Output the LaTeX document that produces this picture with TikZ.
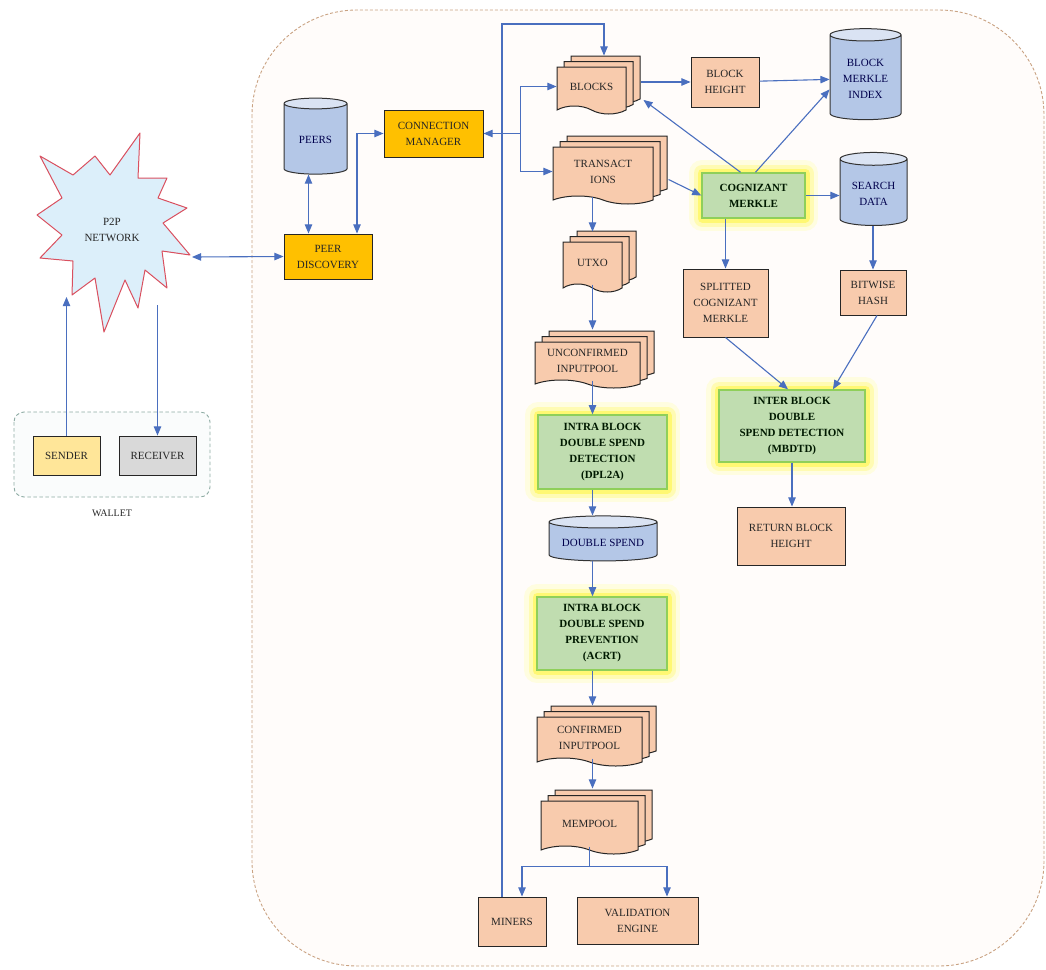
\documentclass[tikz,border=0pt]{standalone}
\usepackage{fontspec}
\setmainfont{Liberation Serif}
\usepackage{xcolor}
\usepackage{tikz}
\usetikzlibrary{arrows, arrows.meta,calc,fit,shapes,shapes.geometric,shapes.symbols,shadows,positioning}

\definecolor{peach}{HTML}{F8CBAD}
\definecolor{gold}{HTML}{FFC000}
\definecolor{dbblue}{HTML}{B4C7E7}
\definecolor{dbtop}{HTML}{DAE3F3}
\definecolor{mgreen}{HTML}{C0DDB0}
\definecolor{mgreenline}{HTML}{8FCF5A}
\definecolor{linkblue}{HTML}{4A6FBF}
\definecolor{netfill}{HTML}{DCEFFA}
\definecolor{netline}{HTML}{D9505F}
\definecolor{frameline}{HTML}{C9A282}
\definecolor{walletline}{HTML}{8DABA3}
\definecolor{sendfill}{HTML}{FFE699}
\definecolor{recvfill}{HTML}{D9D9D9}

\tikzset{BC style/.style={x=1pt,y=-1pt,>=triangle 45,
		every node/.style={font=\fontsize{11}{16}\selectfont,align=center,text=black!85}}}

\begin{document}
\begin{tikzpicture}[BC style]
	\tikzstyle{box}=[rectangle,draw=black!85,fill=peach,line width=1pt,inner sep=2pt]
	\tikzstyle{goldbox}=[box,fill=gold]
	\tikzstyle{db}=[cylinder,shape border rotate=90,draw=black!80,line width=1pt,
	cylinder uses custom fill,cylinder body fill=dbblue,cylinder end fill=dbtop,
	text=blue!30!black,inner sep=2pt]
	\tikzstyle{stack}=[tape,tape bend top=none,tape bend bottom=out and in,tape bend height=8pt,
	draw=black!85,fill=peach,line width=1pt,inner sep=2pt,
	copy shadow={shadow xshift=14pt,shadow yshift=11pt,fill=peach,draw=black!85},
	copy shadow={shadow xshift=7pt,shadow yshift=5.5pt,fill=peach,draw=black!85}]
	\tikzstyle{glow}=[rectangle,draw=mgreenline,line width=1.5pt,fill=mgreen,
	font=\fontsize{11}{16}\selectfont\bfseries,text=black!90!green,
	preaction={draw=yellow!12,line width=26pt,line join=round},
	preaction={draw=yellow!30,line width=17pt,line join=round},
	preaction={draw=yellow!55,line width=9pt,line join=round}]
	\tikzstyle{link}=[color=linkblue,line width=1.1pt]
	
	\useasboundingbox (0,0) rectangle (1046,969);
	
	% frames
	\draw[frameline,dash pattern=on 3pt off 2pt,line width=0.9pt,fill=orange!2,rounded corners=105pt]
	(252,10) rectangle (1044,966);
	\draw[walletline,dash pattern=on 3.5pt off 2.5pt,line width=0.9pt,fill=teal!2,rounded corners=10pt]
	(14,412) rectangle (210,497);
	\node[font=\fontsize{10}{12}\selectfont] (wal) at (112,513) {WALLET};
	
	% p2p network
	\filldraw[fill=netfill,draw=netline,line width=1pt,line join=round]
	(40,156) -- (73,175) -- (95,156) -- (110,175) -- (140,133) -- (138,178)
	-- (167,178) -- (158,198) -- (187,208) -- (163,223) -- (190,255) -- (162,251)
	-- (167,288) -- (145,270) -- (138,308) -- (125,280) -- (104,332) -- (95,278)
	-- (72,295) -- (73,261) -- (40,258) -- (62,235) -- (37,215) -- (62,198) -- cycle;
	\node (net) at (112,230) {P2P\\NETWORK};
	\coordinate (netE) at (192,257);
	\coordinate (netSW) at (68,297);
	\coordinate (netSE) at (157,305);
	
	\node[box,fill=sendfill,minimum width=67,minimum height=39] (snd) at (66.5,455.5) {SENDER};
	\node[box,fill=recvfill,minimum width=77,minimum height=39] (rcv) at (157.5,455.5) {RECEIVER};
	
	\node[db,minimum width=63,minimum height=76,aspect=0.29] (peers) at (315.5,140) {PEERS};
	\node[goldbox,minimum width=88,minimum height=45] (pd) at (328,256.5) {PEER\\DISCOVERY};
	\node[goldbox,minimum width=99,minimum height=47] (cm) at (433.5,133.5) {CONNECTION\\MANAGER};
	
	% main column
	\node[stack,minimum width=69,minimum height=47] (blk) at (591.5,86.5) {BLOCKS};
	\node[stack,minimum width=100,minimum height=57] (tx) at (603,171.5) {TRANSACT\\IONS};
	\node[stack,minimum width=59,minimum height=50] (utxo) at (592.5,263) {UTXO};
	\node[stack,minimum width=105,minimum height=46] (ucp) at (587.5,361) {UNCONFIRMED\\INPUTPOOL};
	\node[glow,minimum width=129,minimum height=74] (dpl) at (602.5,452) {INTRA BLOCK\\DOUBLE SPEND\\DETECTION\\(DPL2A)};
	\node[db,minimum width=108,minimum height=45,aspect=0.14] (ds) at (603,542.5) {DOUBLE SPEND};
	\node[glow,minimum width=130,minimum height=73] (acrt) at (602,633.5) {INTRA BLOCK\\DOUBLE SPEND\\PREVENTION\\(ACRT)};
	\node[stack,minimum width=105,minimum height=49] (cp) at (589.5,737.5) {CONFIRMED\\INPUTPOOL};
	\node[stack,minimum width=97,minimum height=53] (mem) at (589.5,823.5) {MEMPOOL};
	\node[box,minimum width=68,minimum height=49] (min) at (512,921.5) {MINERS};
	\node[box,minimum width=121,minimum height=47] (ve) at (637.5,920.5) {VALIDATION\\ENGINE};
	
	% merkle side
	\node[box,minimum width=68,minimum height=50] (bh) at (725,82) {BLOCK\\HEIGHT};
	\node[db,minimum width=71,minimum height=91,aspect=0.25] (bmi) at (865.5,78.5) {BLOCK\\MERKLE\\INDEX};
	\node[glow,minimum width=103,minimum height=45] (cgm) at (753.5,195.5) {COGNIZANT\\MERKLE};
	\node[db,minimum width=67,minimum height=73,aspect=0.27] (sd) at (873.5,193.5) {SEARCH\\DATA};
	\node[box,minimum width=85,minimum height=68] (scm) at (725.5,303) {SPLITTED\\COGNIZANT\\MERKLE};
	\node[box,minimum width=66,minimum height=45] (bw) at (873,292.5) {BITWISE\\HASH};
	\node[glow,minimum width=146,minimum height=72] (mbd) at (792,426) {INTER BLOCK\\DOUBLE\\SPEND DETECTION\\(MBDTD)};
	\node[box,minimum width=108,minimum height=58] (rbh) at (791,536) {RETURN BLOCK\\HEIGHT};
	
	% links on the left
	\draw[link,<->] (netE) -- (pd.west);
	\draw[link,->] (snd.north) -- (snd.north |- netSW);
	\draw[link,->] (rcv.north |- netSE) -- (rcv.north);
	\draw[link,<->] ($(peers.south)+(-7,0)$) -- ($(peers.south |- pd.north)+(-7,0)$);
	\draw[link,<->] ($(pd.north)+(29,0)$) |- (cm.west);
	
	\coordinate[right=37pt of cm.east] (hub);
	\draw[link,->] (hub) -- (cm.east);
	\draw[link,->] (hub) |- (blk.west);
	\draw[link,->] (hub) |- (tx.west);
	
	\coordinate (top) at (604,24);
	\draw[link,->] ($(min.north)+(-10,0)$) |- (top) -- ($(blk.north)+(12.5,-11)$);
	
	% links on the right
	\draw[link,->] ($(bh.west -| blk.east)+(14,0)$) -- (bh.west);
	\draw[link,->] (bh) -- (bmi);
	\draw[link,->] ($(cgm.north)+(-13,0)$) -- ($(blk.east)+(17,13.5)$);
	\draw[link,->] ($(cgm.north)+(2,0)$) -- ($(bmi.west)+(0,11)$);
	\draw[link,->] ($(tx.east)+(15,8)$) -- (cgm.west);
	\draw[link,->] (cgm.east) -- (cgm.east -| sd.west);
	\draw[link,->] (scm.north |- cgm.south) -- (scm.north);
	\draw[link,->] (bw.north |- sd.south) -- (bw.north);
	\draw[link,->] (scm.south) -- ($(mbd.north)+(-4,0)$);
	\draw[link,->] ($(bw.south)+(4,0)$) -- ($(mbd.north)+(41,0)$);
	\draw[link,->] (mbd.south) -- (mbd.south |- rbh.north);
	
	% column
	\draw[link,->] (utxo.north |- tx.south) -- ($(utxo.north)+(0,-10)$);
	\draw[link,->] (utxo.south) -- ($(ucp.north -| utxo.south)+(0,-12)$);
	\draw[link,->] (ucp.south -| utxo.south) -- (dpl.north -| utxo.south);
	\draw[link,->] (dpl.south -| utxo.south) -- (ds.north -| utxo.south);
	\draw[link,->] (ds.south -| utxo.south) -- (acrt.north -| utxo.south);
	\draw[link,->] (acrt.south -| utxo.south) -- ($(cp.north -| utxo.south)+(0,-11)$);
	\draw[link,->] (cp.south -| utxo.south) -- ($(mem.north -| utxo.south)+(0,-12)$);
	
	\coordinate[below=20pt of mem.south] (fork);
	\draw[link] (mem.south) -- (fork);
	\draw[link,->] (fork) -| ($(min.north)+(10,0)$);
	\draw[link,->] (fork) -| ($(ve.north)+(29.5,0)$);
\end{tikzpicture}
\end{document}
